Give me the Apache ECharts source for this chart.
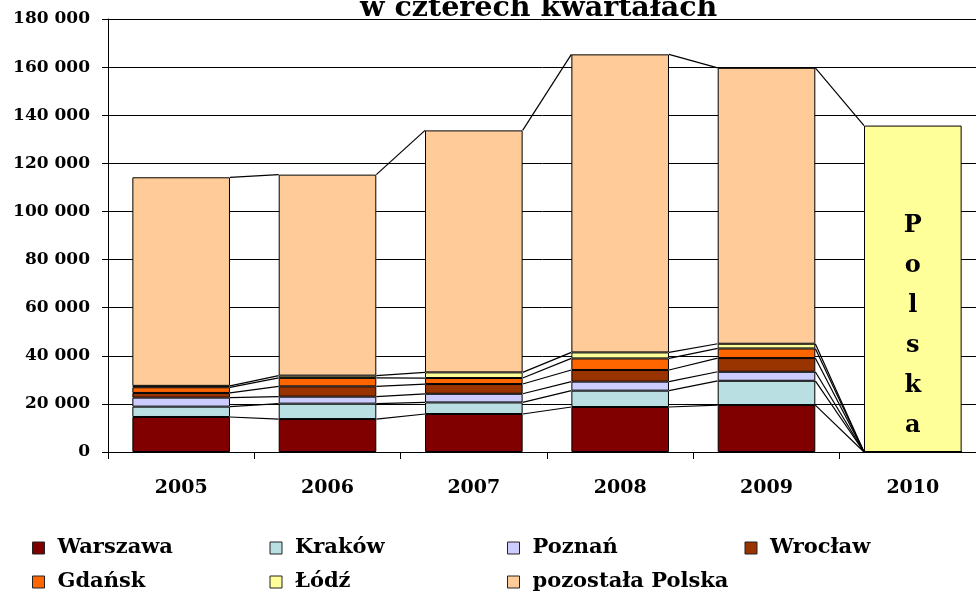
<!DOCTYPE html>
<html>
<head>
<meta charset="utf-8">
<script src="https://cdn.jsdelivr.net/npm/echarts@6/dist/echarts.min.js"></script>
<style>html,body{margin:0;padding:0;background:#fff}#c{width:976px;height:591px}</style>
</head>
<body>
<div id="c"></div>
<script>
const categories = ['2005', '2006', '2007', '2008', '2009', '2010'];
const seriesNames = ['Warszawa', 'Kraków', 'Poznań', 'Wrocław', 'Gdańsk', 'Łódź', 'pozostała Polska'];
const warszawa = [14550, 13700, 15800, 18700, 19500, 0];
const krakow = [4300, 6400, 4800, 6800, 10100, 0];
const poznan = [3750, 2900, 3600, 3750, 3750, 0];
const wroclaw = [1950, 4300, 4050, 4850, 5700, 0];
const gdansk = [2350, 3500, 2500, 4800, 4000, 0];
const lodz = [600, 950, 2350, 2500, 1950, 0];
const pozostala = [86700, 83550, 100600, 123900, 114700, 135700];
const polskaLabel = 'P\no\nl\ns\nk\na';
const titleText = 'w czterech kwartałach';
const yTicks = [0, 20000, 40000, 60000, 80000, 100000, 120000, 140000, 160000, 180000];

const colors = ['#800000', '#BADFE2', '#CCCCFF', '#993300', '#FF6600', '#FFFF99', '#FFCC99'];
const values = [warszawa, krakow, poznan, wroclaw, gdansk, lodz, pozostala];
const FONT = 'DejaVu Serif';
const BAR_RATIO = 0.667;

// cumulative levels for series lines
const cum = [];
values.forEach((arr, k) => {
  cum.push(arr.map((v, i) => v + (k > 0 ? cum[k - 1][i] : 0)));
});
const lineData = [];
cum.forEach(level => {
  for (let i = 0; i < categories.length - 1; i++) lineData.push([i, level[i], level[i + 1]]);
});

const barSeries = values.map((arr, k) => ({
  name: seriesNames[k],
  type: 'bar',
  stack: 'total',
  barWidth: (BAR_RATIO * 100) + '%',
  itemStyle: { color: colors[k], borderColor: '#000', borderWidth: 1 },
  emphasis: { disabled: true },
  data: arr.map((v, i) => {
    if (k === values.length - 1 && i === arr.length - 1) {
      return {
        value: v,
        itemStyle: { color: '#FFFF99', borderColor: '#000', borderWidth: 1 },
        label: {
          show: true, position: 'inside', formatter: polskaLabel,
          fontFamily: FONT, fontWeight: 'bold', fontSize: 24, lineHeight: 40,
          color: '#000', offset: [0, 37]
        }
      };
    }
    return v;
  })
}));

const chart = echarts.init(document.getElementById('c'), null, { renderer: 'canvas' });
chart.setOption({
  animation: false,
  backgroundColor: '#fff',
  title: {
    text: titleText,
    left: 360,
    top: -6,
    padding: 0,
    textStyle: { fontFamily: FONT, fontWeight: 'bold', fontSize: 28.5, color: '#000' }
  },
  grid: { left: 108, width: 878, top: 19, bottom: 139, containLabel: false, outerBoundsMode: 'none' },
  legend: {
    data: seriesNames,
    left: 32,
    top: 531,
    width: 960,
    padding: 0,
    itemWidth: 12,
    itemHeight: 12,
    itemGap: 0,
    icon: 'rect',
    itemStyle: { borderColor: '#222', borderWidth: 1 },
    textStyle: {
      fontFamily: FONT, fontWeight: 'bold', fontSize: 21, color: '#000',
      width: 212, padding: [0, 0, 0, 8], lineHeight: 34, overflow: 'none'
    },
    selectedMode: false
  },
  xAxis: {
    type: 'category',
    data: categories,
    axisLine: { lineStyle: { color: '#000', width: 1 } },
    axisTick: { show: true, length: 7, lineStyle: { color: '#000' } },
    axisLabel: { fontFamily: FONT, fontWeight: 'bold', fontSize: 19, color: '#000', margin: 27 }
  },
  yAxis: {
    type: 'value',
    min: yTicks[0],
    max: yTicks[yTicks.length - 1],
    interval: yTicks[1] - yTicks[0],
    axisLine: { show: true, lineStyle: { color: '#000', width: 1 } },
    axisTick: { show: true, length: 6, lineStyle: { color: '#000' } },
    splitLine: { show: true, lineStyle: { color: '#000', width: 1 } },
    axisLabel: {
      fontFamily: FONT, fontWeight: 'bold', fontSize: 17, color: '#000', margin: 18,
      formatter: v => String(v).replace(/\B(?=(\d{3})+(?!\d))/g, ' ')
    }
  },
  series: barSeries.concat([{
    type: 'custom',
    name: 'seriesLines',
    silent: true,
    z: 3,
    data: lineData,
    encode: { x: 0, y: [1, 2] },
    renderItem: function (params, api) {
      const i = api.value(0);
      const p1 = api.coord([i, api.value(1)]);
      const p2 = api.coord([i + 1, api.value(2)]);
      const hw = api.size([1, 0])[0] * BAR_RATIO / 2;
      return {
        type: 'line',
        shape: { x1: p1[0] + hw, y1: p1[1], x2: p2[0] - hw, y2: p2[1] },
        style: { stroke: '#000', lineWidth: 1.2 }
      };
    }
  }])
});
</script>
</body>
</html>
